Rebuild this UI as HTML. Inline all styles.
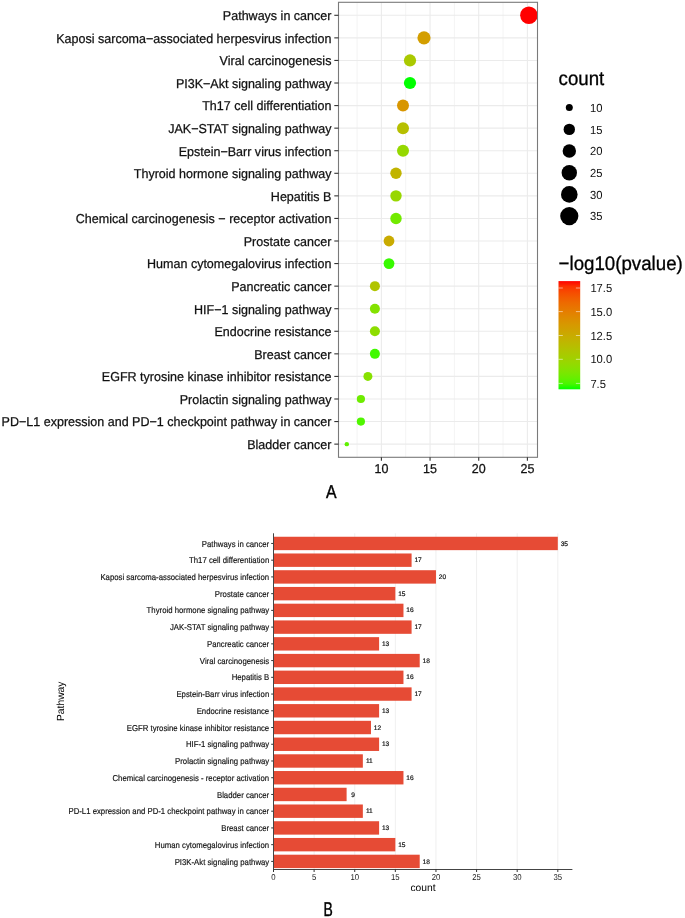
<!DOCTYPE html><html><head><meta charset="utf-8"><style>html,body{margin:0;padding:0;background:#fff;}svg{display:block;will-change:transform;}text{font-family:"Liberation Sans",sans-serif;text-rendering:geometricPrecision;}</style></head><body>
<svg width="685" height="918" viewBox="0 0 685 918">
<defs><linearGradient id="cb" x1="0" y1="1" x2="0" y2="0">
<stop offset="0.00" stop-color="#00FF00"/>
<stop offset="0.05" stop-color="#49F700"/>
<stop offset="0.10" stop-color="#65EF00"/>
<stop offset="0.15" stop-color="#7AE700"/>
<stop offset="0.20" stop-color="#8ADF00"/>
<stop offset="0.25" stop-color="#98D700"/>
<stop offset="0.30" stop-color="#A4CE00"/>
<stop offset="0.35" stop-color="#AEC600"/>
<stop offset="0.40" stop-color="#B8BD00"/>
<stop offset="0.45" stop-color="#C1B400"/>
<stop offset="0.50" stop-color="#C9AB00"/>
<stop offset="0.55" stop-color="#D0A100"/>
<stop offset="0.60" stop-color="#D79800"/>
<stop offset="0.65" stop-color="#DD8D00"/>
<stop offset="0.70" stop-color="#E38200"/>
<stop offset="0.75" stop-color="#E87600"/>
<stop offset="0.80" stop-color="#ED6A00"/>
<stop offset="0.85" stop-color="#F25B00"/>
<stop offset="0.90" stop-color="#F74A00"/>
<stop offset="0.95" stop-color="#FB3300"/>
<stop offset="1.00" stop-color="#FF0000"/>
</linearGradient></defs>
<line x1="357.07" y1="2.3" x2="357.07" y2="457.3" stroke="#EBEBEB" stroke-width="0.6"/>
<line x1="405.73" y1="2.3" x2="405.73" y2="457.3" stroke="#EBEBEB" stroke-width="0.6"/>
<line x1="454.40" y1="2.3" x2="454.40" y2="457.3" stroke="#EBEBEB" stroke-width="0.6"/>
<line x1="503.06" y1="2.3" x2="503.06" y2="457.3" stroke="#EBEBEB" stroke-width="0.6"/>
<line x1="381.40" y1="2.3" x2="381.40" y2="457.3" stroke="#EBEBEB" stroke-width="1.1"/>
<line x1="430.06" y1="2.3" x2="430.06" y2="457.3" stroke="#EBEBEB" stroke-width="1.1"/>
<line x1="478.73" y1="2.3" x2="478.73" y2="457.3" stroke="#EBEBEB" stroke-width="1.1"/>
<line x1="527.39" y1="2.3" x2="527.39" y2="457.3" stroke="#EBEBEB" stroke-width="1.1"/>
<line x1="338.5" y1="15.30" x2="537.5" y2="15.30" stroke="#EBEBEB" stroke-width="1.1"/>
<line x1="338.5" y1="37.87" x2="537.5" y2="37.87" stroke="#EBEBEB" stroke-width="1.1"/>
<line x1="338.5" y1="60.44" x2="537.5" y2="60.44" stroke="#EBEBEB" stroke-width="1.1"/>
<line x1="338.5" y1="83.01" x2="537.5" y2="83.01" stroke="#EBEBEB" stroke-width="1.1"/>
<line x1="338.5" y1="105.58" x2="537.5" y2="105.58" stroke="#EBEBEB" stroke-width="1.1"/>
<line x1="338.5" y1="128.15" x2="537.5" y2="128.15" stroke="#EBEBEB" stroke-width="1.1"/>
<line x1="338.5" y1="150.72" x2="537.5" y2="150.72" stroke="#EBEBEB" stroke-width="1.1"/>
<line x1="338.5" y1="173.29" x2="537.5" y2="173.29" stroke="#EBEBEB" stroke-width="1.1"/>
<line x1="338.5" y1="195.86" x2="537.5" y2="195.86" stroke="#EBEBEB" stroke-width="1.1"/>
<line x1="338.5" y1="218.43" x2="537.5" y2="218.43" stroke="#EBEBEB" stroke-width="1.1"/>
<line x1="338.5" y1="241.00" x2="537.5" y2="241.00" stroke="#EBEBEB" stroke-width="1.1"/>
<line x1="338.5" y1="263.57" x2="537.5" y2="263.57" stroke="#EBEBEB" stroke-width="1.1"/>
<line x1="338.5" y1="286.14" x2="537.5" y2="286.14" stroke="#EBEBEB" stroke-width="1.1"/>
<line x1="338.5" y1="308.71" x2="537.5" y2="308.71" stroke="#EBEBEB" stroke-width="1.1"/>
<line x1="338.5" y1="331.28" x2="537.5" y2="331.28" stroke="#EBEBEB" stroke-width="1.1"/>
<line x1="338.5" y1="353.85" x2="537.5" y2="353.85" stroke="#EBEBEB" stroke-width="1.1"/>
<line x1="338.5" y1="376.42" x2="537.5" y2="376.42" stroke="#EBEBEB" stroke-width="1.1"/>
<line x1="338.5" y1="398.99" x2="537.5" y2="398.99" stroke="#EBEBEB" stroke-width="1.1"/>
<line x1="338.5" y1="421.56" x2="537.5" y2="421.56" stroke="#EBEBEB" stroke-width="1.1"/>
<line x1="338.5" y1="444.13" x2="537.5" y2="444.13" stroke="#EBEBEB" stroke-width="1.1"/>
<circle cx="528.9" cy="15.30" r="8.76" fill="#FF0000"/>
<circle cx="424.0" cy="37.87" r="6.6" fill="#D39E00"/>
<circle cx="410.0" cy="60.44" r="6.1" fill="#AAC900"/>
<circle cx="410.0" cy="83.01" r="6.1" fill="#00FF00"/>
<circle cx="403.0" cy="105.58" r="6.0" fill="#D89600"/>
<circle cx="403.0" cy="128.15" r="6.0" fill="#B6BF00"/>
<circle cx="403.0" cy="150.72" r="6.0" fill="#95D800"/>
<circle cx="396.0" cy="173.29" r="5.7" fill="#C1B400"/>
<circle cx="396.0" cy="195.86" r="5.7" fill="#98D700"/>
<circle cx="396.0" cy="218.43" r="5.7" fill="#72EA00"/>
<circle cx="389.0" cy="241.00" r="5.4" fill="#C9AB00"/>
<circle cx="389.0" cy="263.57" r="5.4" fill="#38FA00"/>
<circle cx="374.9" cy="286.14" r="5.0" fill="#B0C400"/>
<circle cx="374.9" cy="308.71" r="5.0" fill="#84E200"/>
<circle cx="374.9" cy="331.28" r="5.0" fill="#8DDD00"/>
<circle cx="374.9" cy="353.85" r="5.0" fill="#41F900"/>
<circle cx="367.9" cy="376.42" r="4.5" fill="#87E100"/>
<circle cx="360.9" cy="398.99" r="4.1" fill="#6EEC00"/>
<circle cx="360.9" cy="421.56" r="4.1" fill="#50F600"/>
<circle cx="346.8" cy="444.13" r="2.2" fill="#60F100"/>
<rect x="338.5" y="2.3" width="199.0" height="455.0" fill="none" stroke="#7a7a7a" stroke-width="1.1"/>
<line x1="334.3" y1="15.30" x2="338.5" y2="15.30" stroke="#333" stroke-width="1.1"/>
<text transform="translate(331.40 20.20) scale(1 1.03)" x="0" y="0" font-size="12.52" text-anchor="end" fill="#111" stroke="#111" stroke-width="0.25">Pathways in cancer</text>
<line x1="334.3" y1="37.87" x2="338.5" y2="37.87" stroke="#333" stroke-width="1.1"/>
<text transform="translate(331.40 42.77) scale(1 1.03)" x="0" y="0" font-size="12.52" text-anchor="end" fill="#111" stroke="#111" stroke-width="0.25">Kaposi sarcoma−associated herpesvirus infection</text>
<line x1="334.3" y1="60.44" x2="338.5" y2="60.44" stroke="#333" stroke-width="1.1"/>
<text transform="translate(331.40 65.34) scale(1 1.03)" x="0" y="0" font-size="12.52" text-anchor="end" fill="#111" stroke="#111" stroke-width="0.25">Viral carcinogenesis</text>
<line x1="334.3" y1="83.01" x2="338.5" y2="83.01" stroke="#333" stroke-width="1.1"/>
<text transform="translate(331.40 87.91) scale(1 1.03)" x="0" y="0" font-size="12.52" text-anchor="end" fill="#111" stroke="#111" stroke-width="0.25">PI3K−Akt signaling pathway</text>
<line x1="334.3" y1="105.58" x2="338.5" y2="105.58" stroke="#333" stroke-width="1.1"/>
<text transform="translate(331.40 110.48) scale(1 1.03)" x="0" y="0" font-size="12.52" text-anchor="end" fill="#111" stroke="#111" stroke-width="0.25">Th17 cell differentiation</text>
<line x1="334.3" y1="128.15" x2="338.5" y2="128.15" stroke="#333" stroke-width="1.1"/>
<text transform="translate(331.40 133.05) scale(1 1.03)" x="0" y="0" font-size="12.52" text-anchor="end" fill="#111" stroke="#111" stroke-width="0.25">JAK−STAT signaling pathway</text>
<line x1="334.3" y1="150.72" x2="338.5" y2="150.72" stroke="#333" stroke-width="1.1"/>
<text transform="translate(331.40 155.62) scale(1 1.03)" x="0" y="0" font-size="12.52" text-anchor="end" fill="#111" stroke="#111" stroke-width="0.25">Epstein−Barr virus infection</text>
<line x1="334.3" y1="173.29" x2="338.5" y2="173.29" stroke="#333" stroke-width="1.1"/>
<text transform="translate(331.40 178.19) scale(1 1.03)" x="0" y="0" font-size="12.52" text-anchor="end" fill="#111" stroke="#111" stroke-width="0.25">Thyroid hormone signaling pathway</text>
<line x1="334.3" y1="195.86" x2="338.5" y2="195.86" stroke="#333" stroke-width="1.1"/>
<text transform="translate(331.40 200.76) scale(1 1.03)" x="0" y="0" font-size="12.52" text-anchor="end" fill="#111" stroke="#111" stroke-width="0.25">Hepatitis B</text>
<line x1="334.3" y1="218.43" x2="338.5" y2="218.43" stroke="#333" stroke-width="1.1"/>
<text transform="translate(331.40 223.33) scale(1 1.03)" x="0" y="0" font-size="12.52" text-anchor="end" fill="#111" stroke="#111" stroke-width="0.25">Chemical carcinogenesis − receptor activation</text>
<line x1="334.3" y1="241.00" x2="338.5" y2="241.00" stroke="#333" stroke-width="1.1"/>
<text transform="translate(331.40 245.90) scale(1 1.03)" x="0" y="0" font-size="12.52" text-anchor="end" fill="#111" stroke="#111" stroke-width="0.25">Prostate cancer</text>
<line x1="334.3" y1="263.57" x2="338.5" y2="263.57" stroke="#333" stroke-width="1.1"/>
<text transform="translate(331.40 268.47) scale(1 1.03)" x="0" y="0" font-size="12.52" text-anchor="end" fill="#111" stroke="#111" stroke-width="0.25">Human cytomegalovirus infection</text>
<line x1="334.3" y1="286.14" x2="338.5" y2="286.14" stroke="#333" stroke-width="1.1"/>
<text transform="translate(331.40 291.04) scale(1 1.03)" x="0" y="0" font-size="12.52" text-anchor="end" fill="#111" stroke="#111" stroke-width="0.25">Pancreatic cancer</text>
<line x1="334.3" y1="308.71" x2="338.5" y2="308.71" stroke="#333" stroke-width="1.1"/>
<text transform="translate(331.40 313.61) scale(1 1.03)" x="0" y="0" font-size="12.52" text-anchor="end" fill="#111" stroke="#111" stroke-width="0.25">HIF−1 signaling pathway</text>
<line x1="334.3" y1="331.28" x2="338.5" y2="331.28" stroke="#333" stroke-width="1.1"/>
<text transform="translate(331.40 336.18) scale(1 1.03)" x="0" y="0" font-size="12.52" text-anchor="end" fill="#111" stroke="#111" stroke-width="0.25">Endocrine resistance</text>
<line x1="334.3" y1="353.85" x2="338.5" y2="353.85" stroke="#333" stroke-width="1.1"/>
<text transform="translate(331.40 358.75) scale(1 1.03)" x="0" y="0" font-size="12.52" text-anchor="end" fill="#111" stroke="#111" stroke-width="0.25">Breast cancer</text>
<line x1="334.3" y1="376.42" x2="338.5" y2="376.42" stroke="#333" stroke-width="1.1"/>
<text transform="translate(331.40 381.32) scale(1 1.03)" x="0" y="0" font-size="12.52" text-anchor="end" fill="#111" stroke="#111" stroke-width="0.25">EGFR tyrosine kinase inhibitor resistance</text>
<line x1="334.3" y1="398.99" x2="338.5" y2="398.99" stroke="#333" stroke-width="1.1"/>
<text transform="translate(331.40 403.89) scale(1 1.03)" x="0" y="0" font-size="12.52" text-anchor="end" fill="#111" stroke="#111" stroke-width="0.25">Prolactin signaling pathway</text>
<line x1="334.3" y1="421.56" x2="338.5" y2="421.56" stroke="#333" stroke-width="1.1"/>
<text transform="translate(331.40 426.46) scale(1 1.03)" x="0" y="0" font-size="12.52" text-anchor="end" fill="#111" stroke="#111" stroke-width="0.25">PD−L1 expression and PD−1 checkpoint pathway in cancer</text>
<line x1="334.3" y1="444.13" x2="338.5" y2="444.13" stroke="#333" stroke-width="1.1"/>
<text transform="translate(331.40 449.03) scale(1 1.03)" x="0" y="0" font-size="12.52" text-anchor="end" fill="#111" stroke="#111" stroke-width="0.25">Bladder cancer</text>
<line x1="381.40" y1="457.3" x2="381.40" y2="460.7" stroke="#333" stroke-width="1.1"/>
<text transform="translate(381.40 473.20) scale(1 1.03)" x="0" y="0" font-size="12.52" text-anchor="middle" fill="#111" stroke="#111" stroke-width="0.25">10</text>
<line x1="430.06" y1="457.3" x2="430.06" y2="460.7" stroke="#333" stroke-width="1.1"/>
<text transform="translate(430.06 473.20) scale(1 1.03)" x="0" y="0" font-size="12.52" text-anchor="middle" fill="#111" stroke="#111" stroke-width="0.25">15</text>
<line x1="478.73" y1="457.3" x2="478.73" y2="460.7" stroke="#333" stroke-width="1.1"/>
<text transform="translate(478.73 473.20) scale(1 1.03)" x="0" y="0" font-size="12.52" text-anchor="middle" fill="#111" stroke="#111" stroke-width="0.25">20</text>
<line x1="527.39" y1="457.3" x2="527.39" y2="460.7" stroke="#333" stroke-width="1.1"/>
<text transform="translate(527.39 473.20) scale(1 1.03)" x="0" y="0" font-size="12.52" text-anchor="middle" fill="#111" stroke="#111" stroke-width="0.25">25</text>
<text transform="translate(558.60 85.10) scale(1 1.05)" x="0" y="0" font-size="18.7" text-anchor="start" fill="#000" stroke="#000" stroke-width="0.3">count</text>
<circle cx="569.3" cy="107.5" r="3.5" fill="#000"/>
<text transform="translate(590.00 111.60) scale(1 1.05)" x="0" y="0" font-size="11.2" text-anchor="start" fill="#111">10</text>
<circle cx="569.3" cy="129.4" r="5.7" fill="#000"/>
<text transform="translate(590.00 133.50) scale(1 1.05)" x="0" y="0" font-size="11.2" text-anchor="start" fill="#111">15</text>
<circle cx="569.3" cy="151.0" r="6.7" fill="#000"/>
<text transform="translate(590.00 155.10) scale(1 1.05)" x="0" y="0" font-size="11.2" text-anchor="start" fill="#111">20</text>
<circle cx="569.3" cy="172.7" r="7.7" fill="#000"/>
<text transform="translate(590.00 176.80) scale(1 1.05)" x="0" y="0" font-size="11.2" text-anchor="start" fill="#111">25</text>
<circle cx="569.3" cy="194.4" r="8.3" fill="#000"/>
<text transform="translate(590.00 198.50) scale(1 1.05)" x="0" y="0" font-size="11.2" text-anchor="start" fill="#111">30</text>
<circle cx="569.3" cy="216.1" r="9.1" fill="#000"/>
<text transform="translate(590.00 220.20) scale(1 1.05)" x="0" y="0" font-size="11.2" text-anchor="start" fill="#111">35</text>
<text transform="translate(558.60 269.60) scale(1 1.05)" x="0" y="0" font-size="18.7" text-anchor="start" fill="#000" stroke="#000" stroke-width="0.3">−log10(pvalue)</text>
<rect x="558.5" y="281.1" width="21.7" height="108.2" fill="url(#cb)"/>
<line x1="558.5" y1="288.0" x2="562.8" y2="288.0" stroke="#fff" stroke-opacity="0.6" stroke-width="0.9"/>
<line x1="575.9" y1="288.0" x2="580.2" y2="288.0" stroke="#fff" stroke-opacity="0.6" stroke-width="0.9"/>
<text transform="translate(590.40 292.10) scale(1 1.05)" x="0" y="0" font-size="11.2" text-anchor="start" fill="#111">17.5</text>
<line x1="558.5" y1="311.6" x2="562.8" y2="311.6" stroke="#fff" stroke-opacity="0.6" stroke-width="0.9"/>
<line x1="575.9" y1="311.6" x2="580.2" y2="311.6" stroke="#fff" stroke-opacity="0.6" stroke-width="0.9"/>
<text transform="translate(590.40 315.70) scale(1 1.05)" x="0" y="0" font-size="11.2" text-anchor="start" fill="#111">15.0</text>
<line x1="558.5" y1="335.5" x2="562.8" y2="335.5" stroke="#fff" stroke-opacity="0.6" stroke-width="0.9"/>
<line x1="575.9" y1="335.5" x2="580.2" y2="335.5" stroke="#fff" stroke-opacity="0.6" stroke-width="0.9"/>
<text transform="translate(590.40 339.60) scale(1 1.05)" x="0" y="0" font-size="11.2" text-anchor="start" fill="#111">12.5</text>
<line x1="558.5" y1="359.3" x2="562.8" y2="359.3" stroke="#fff" stroke-opacity="0.6" stroke-width="0.9"/>
<line x1="575.9" y1="359.3" x2="580.2" y2="359.3" stroke="#fff" stroke-opacity="0.6" stroke-width="0.9"/>
<text transform="translate(590.40 363.40) scale(1 1.05)" x="0" y="0" font-size="11.2" text-anchor="start" fill="#111">10.0</text>
<line x1="558.5" y1="383.4" x2="562.8" y2="383.4" stroke="#fff" stroke-opacity="0.6" stroke-width="0.9"/>
<line x1="575.9" y1="383.4" x2="580.2" y2="383.4" stroke="#fff" stroke-opacity="0.6" stroke-width="0.9"/>
<text transform="translate(590.40 387.50) scale(1 1.05)" x="0" y="0" font-size="11.2" text-anchor="start" fill="#111">7.5</text>
<text x="331.4" y="497.7" font-size="18.6" text-anchor="middle" fill="#000" stroke="#000" stroke-width="0.45" transform="translate(331.4 0) scale(0.85 1) translate(-331.4 0)">A</text>
<line x1="273.50" y1="533.3" x2="273.50" y2="869.3" stroke="#EBEBEB" stroke-width="0.8"/>
<line x1="314.12" y1="533.3" x2="314.12" y2="869.3" stroke="#EBEBEB" stroke-width="0.8"/>
<line x1="354.73" y1="533.3" x2="354.73" y2="869.3" stroke="#EBEBEB" stroke-width="0.8"/>
<line x1="395.34" y1="533.3" x2="395.34" y2="869.3" stroke="#EBEBEB" stroke-width="0.8"/>
<line x1="435.96" y1="533.3" x2="435.96" y2="869.3" stroke="#EBEBEB" stroke-width="0.8"/>
<line x1="476.57" y1="533.3" x2="476.57" y2="869.3" stroke="#EBEBEB" stroke-width="0.8"/>
<line x1="517.19" y1="533.3" x2="517.19" y2="869.3" stroke="#EBEBEB" stroke-width="0.8"/>
<line x1="557.80" y1="533.3" x2="557.80" y2="869.3" stroke="#EBEBEB" stroke-width="0.8"/>
<rect x="273.7" y="536.75" width="284.10" height="13.4" fill="#E64B35"/>
<text x="564.30" y="545.55" font-size="6.6" text-anchor="middle" fill="#111" stroke="#111" stroke-width="0.2">35</text>
<line x1="271.2" y1="543.45" x2="273.7" y2="543.45" stroke="#333" stroke-width="1"/>
<text transform="translate(269.20 546.55) scale(1 1.1)" x="0" y="0" font-size="7.77" text-anchor="end" fill="#111" stroke="#111" stroke-width="0.15">Pathways in cancer</text>
<rect x="273.7" y="553.48" width="137.89" height="13.4" fill="#E64B35"/>
<text x="418.09" y="562.28" font-size="6.6" text-anchor="middle" fill="#111" stroke="#111" stroke-width="0.2">17</text>
<line x1="271.2" y1="560.18" x2="273.7" y2="560.18" stroke="#333" stroke-width="1"/>
<text transform="translate(269.20 563.28) scale(1 1.1)" x="0" y="0" font-size="7.77" text-anchor="end" fill="#111" stroke="#111" stroke-width="0.15">Th17 cell differentiation</text>
<rect x="273.7" y="570.22" width="162.26" height="13.4" fill="#E64B35"/>
<text x="442.46" y="579.02" font-size="6.6" text-anchor="middle" fill="#111" stroke="#111" stroke-width="0.2">20</text>
<line x1="271.2" y1="576.92" x2="273.7" y2="576.92" stroke="#333" stroke-width="1"/>
<text transform="translate(269.20 580.02) scale(1 1.1)" x="0" y="0" font-size="7.77" text-anchor="end" fill="#111" stroke="#111" stroke-width="0.15">Kaposi sarcoma-associated herpesvirus infection</text>
<rect x="273.7" y="586.95" width="121.64" height="13.4" fill="#E64B35"/>
<text x="401.84" y="595.75" font-size="6.6" text-anchor="middle" fill="#111" stroke="#111" stroke-width="0.2">15</text>
<line x1="271.2" y1="593.65" x2="273.7" y2="593.65" stroke="#333" stroke-width="1"/>
<text transform="translate(269.20 596.75) scale(1 1.1)" x="0" y="0" font-size="7.77" text-anchor="end" fill="#111" stroke="#111" stroke-width="0.15">Prostate cancer</text>
<rect x="273.7" y="603.69" width="129.77" height="13.4" fill="#E64B35"/>
<text x="409.97" y="612.49" font-size="6.6" text-anchor="middle" fill="#111" stroke="#111" stroke-width="0.2">16</text>
<line x1="271.2" y1="610.39" x2="273.7" y2="610.39" stroke="#333" stroke-width="1"/>
<text transform="translate(269.20 613.49) scale(1 1.1)" x="0" y="0" font-size="7.77" text-anchor="end" fill="#111" stroke="#111" stroke-width="0.15">Thyroid hormone signaling pathway</text>
<rect x="273.7" y="620.42" width="137.89" height="13.4" fill="#E64B35"/>
<text x="418.09" y="629.22" font-size="6.6" text-anchor="middle" fill="#111" stroke="#111" stroke-width="0.2">17</text>
<line x1="271.2" y1="627.12" x2="273.7" y2="627.12" stroke="#333" stroke-width="1"/>
<text transform="translate(269.20 630.22) scale(1 1.1)" x="0" y="0" font-size="7.77" text-anchor="end" fill="#111" stroke="#111" stroke-width="0.15">JAK-STAT signaling pathway</text>
<rect x="273.7" y="637.15" width="105.40" height="13.4" fill="#E64B35"/>
<text x="385.60" y="645.95" font-size="6.6" text-anchor="middle" fill="#111" stroke="#111" stroke-width="0.2">13</text>
<line x1="271.2" y1="643.85" x2="273.7" y2="643.85" stroke="#333" stroke-width="1"/>
<text transform="translate(269.20 646.95) scale(1 1.1)" x="0" y="0" font-size="7.77" text-anchor="end" fill="#111" stroke="#111" stroke-width="0.15">Pancreatic cancer</text>
<rect x="273.7" y="653.89" width="146.01" height="13.4" fill="#E64B35"/>
<text x="426.21" y="662.69" font-size="6.6" text-anchor="middle" fill="#111" stroke="#111" stroke-width="0.2">18</text>
<line x1="271.2" y1="660.59" x2="273.7" y2="660.59" stroke="#333" stroke-width="1"/>
<text transform="translate(269.20 663.69) scale(1 1.1)" x="0" y="0" font-size="7.77" text-anchor="end" fill="#111" stroke="#111" stroke-width="0.15">Viral carcinogenesis</text>
<rect x="273.7" y="670.62" width="129.77" height="13.4" fill="#E64B35"/>
<text x="409.97" y="679.42" font-size="6.6" text-anchor="middle" fill="#111" stroke="#111" stroke-width="0.2">16</text>
<line x1="271.2" y1="677.32" x2="273.7" y2="677.32" stroke="#333" stroke-width="1"/>
<text transform="translate(269.20 680.42) scale(1 1.1)" x="0" y="0" font-size="7.77" text-anchor="end" fill="#111" stroke="#111" stroke-width="0.15">Hepatitis B</text>
<rect x="273.7" y="687.36" width="137.89" height="13.4" fill="#E64B35"/>
<text x="418.09" y="696.16" font-size="6.6" text-anchor="middle" fill="#111" stroke="#111" stroke-width="0.2">17</text>
<line x1="271.2" y1="694.06" x2="273.7" y2="694.06" stroke="#333" stroke-width="1"/>
<text transform="translate(269.20 697.16) scale(1 1.1)" x="0" y="0" font-size="7.77" text-anchor="end" fill="#111" stroke="#111" stroke-width="0.15">Epstein-Barr virus infection</text>
<rect x="273.7" y="704.09" width="105.40" height="13.4" fill="#E64B35"/>
<text x="385.60" y="712.89" font-size="6.6" text-anchor="middle" fill="#111" stroke="#111" stroke-width="0.2">13</text>
<line x1="271.2" y1="710.79" x2="273.7" y2="710.79" stroke="#333" stroke-width="1"/>
<text transform="translate(269.20 713.89) scale(1 1.1)" x="0" y="0" font-size="7.77" text-anchor="end" fill="#111" stroke="#111" stroke-width="0.15">Endocrine resistance</text>
<rect x="273.7" y="720.82" width="97.28" height="13.4" fill="#E64B35"/>
<text x="377.48" y="729.62" font-size="6.6" text-anchor="middle" fill="#111" stroke="#111" stroke-width="0.2">12</text>
<line x1="271.2" y1="727.52" x2="273.7" y2="727.52" stroke="#333" stroke-width="1"/>
<text transform="translate(269.20 730.62) scale(1 1.1)" x="0" y="0" font-size="7.77" text-anchor="end" fill="#111" stroke="#111" stroke-width="0.15">EGFR tyrosine kinase inhibitor resistance</text>
<rect x="273.7" y="737.56" width="105.40" height="13.4" fill="#E64B35"/>
<text x="385.60" y="746.36" font-size="6.6" text-anchor="middle" fill="#111" stroke="#111" stroke-width="0.2">13</text>
<line x1="271.2" y1="744.26" x2="273.7" y2="744.26" stroke="#333" stroke-width="1"/>
<text transform="translate(269.20 747.36) scale(1 1.1)" x="0" y="0" font-size="7.77" text-anchor="end" fill="#111" stroke="#111" stroke-width="0.15">HIF-1 signaling pathway</text>
<rect x="273.7" y="754.29" width="89.15" height="13.4" fill="#E64B35"/>
<text x="369.35" y="763.09" font-size="6.6" text-anchor="middle" fill="#111" stroke="#111" stroke-width="0.2">11</text>
<line x1="271.2" y1="760.99" x2="273.7" y2="760.99" stroke="#333" stroke-width="1"/>
<text transform="translate(269.20 764.09) scale(1 1.1)" x="0" y="0" font-size="7.77" text-anchor="end" fill="#111" stroke="#111" stroke-width="0.15">Prolactin signaling pathway</text>
<rect x="273.7" y="771.03" width="129.77" height="13.4" fill="#E64B35"/>
<text x="409.97" y="779.83" font-size="6.6" text-anchor="middle" fill="#111" stroke="#111" stroke-width="0.2">16</text>
<line x1="271.2" y1="777.73" x2="273.7" y2="777.73" stroke="#333" stroke-width="1"/>
<text transform="translate(269.20 780.83) scale(1 1.1)" x="0" y="0" font-size="7.77" text-anchor="end" fill="#111" stroke="#111" stroke-width="0.15">Chemical carcinogenesis - receptor activation</text>
<rect x="273.7" y="787.76" width="72.91" height="13.4" fill="#E64B35"/>
<text x="353.11" y="796.56" font-size="6.6" text-anchor="middle" fill="#111" stroke="#111" stroke-width="0.2">9</text>
<line x1="271.2" y1="794.46" x2="273.7" y2="794.46" stroke="#333" stroke-width="1"/>
<text transform="translate(269.20 797.56) scale(1 1.1)" x="0" y="0" font-size="7.77" text-anchor="end" fill="#111" stroke="#111" stroke-width="0.15">Bladder cancer</text>
<rect x="273.7" y="804.49" width="89.15" height="13.4" fill="#E64B35"/>
<text x="369.35" y="813.29" font-size="6.6" text-anchor="middle" fill="#111" stroke="#111" stroke-width="0.2">11</text>
<line x1="271.2" y1="811.19" x2="273.7" y2="811.19" stroke="#333" stroke-width="1"/>
<text transform="translate(269.20 814.29) scale(1 1.1)" x="0" y="0" font-size="7.77" text-anchor="end" fill="#111" stroke="#111" stroke-width="0.15">PD-L1 expression and PD-1 checkpoint pathway in cancer</text>
<rect x="273.7" y="821.23" width="105.40" height="13.4" fill="#E64B35"/>
<text x="385.60" y="830.03" font-size="6.6" text-anchor="middle" fill="#111" stroke="#111" stroke-width="0.2">13</text>
<line x1="271.2" y1="827.93" x2="273.7" y2="827.93" stroke="#333" stroke-width="1"/>
<text transform="translate(269.20 831.03) scale(1 1.1)" x="0" y="0" font-size="7.77" text-anchor="end" fill="#111" stroke="#111" stroke-width="0.15">Breast cancer</text>
<rect x="273.7" y="837.96" width="121.64" height="13.4" fill="#E64B35"/>
<text x="401.84" y="846.76" font-size="6.6" text-anchor="middle" fill="#111" stroke="#111" stroke-width="0.2">15</text>
<line x1="271.2" y1="844.66" x2="273.7" y2="844.66" stroke="#333" stroke-width="1"/>
<text transform="translate(269.20 847.76) scale(1 1.1)" x="0" y="0" font-size="7.77" text-anchor="end" fill="#111" stroke="#111" stroke-width="0.15">Human cytomegalovirus infection</text>
<rect x="273.7" y="854.70" width="146.01" height="13.4" fill="#E64B35"/>
<text x="426.21" y="863.50" font-size="6.6" text-anchor="middle" fill="#111" stroke="#111" stroke-width="0.2">18</text>
<line x1="271.2" y1="861.40" x2="273.7" y2="861.40" stroke="#333" stroke-width="1"/>
<text transform="translate(269.20 864.50) scale(1 1.1)" x="0" y="0" font-size="7.77" text-anchor="end" fill="#111" stroke="#111" stroke-width="0.15">PI3K-Akt signaling pathway</text>
<line x1="273.5" y1="533.3" x2="273.5" y2="872" stroke="#444" stroke-width="1"/>
<line x1="273" y1="869.5" x2="572.4" y2="869.5" stroke="#444" stroke-width="1"/>
<line x1="273.50" y1="869.3" x2="273.50" y2="872" stroke="#333" stroke-width="1"/>
<text transform="translate(273.50 879.80) scale(1 1.1)" x="0" y="0" font-size="7.77" text-anchor="middle" fill="#1a1a1a">0</text>
<line x1="314.12" y1="869.3" x2="314.12" y2="872" stroke="#333" stroke-width="1"/>
<text transform="translate(314.12 879.80) scale(1 1.1)" x="0" y="0" font-size="7.77" text-anchor="middle" fill="#1a1a1a">5</text>
<line x1="354.73" y1="869.3" x2="354.73" y2="872" stroke="#333" stroke-width="1"/>
<text transform="translate(354.73 879.80) scale(1 1.1)" x="0" y="0" font-size="7.77" text-anchor="middle" fill="#1a1a1a">10</text>
<line x1="395.34" y1="869.3" x2="395.34" y2="872" stroke="#333" stroke-width="1"/>
<text transform="translate(395.34 879.80) scale(1 1.1)" x="0" y="0" font-size="7.77" text-anchor="middle" fill="#1a1a1a">15</text>
<line x1="435.96" y1="869.3" x2="435.96" y2="872" stroke="#333" stroke-width="1"/>
<text transform="translate(435.96 879.80) scale(1 1.1)" x="0" y="0" font-size="7.77" text-anchor="middle" fill="#1a1a1a">20</text>
<line x1="476.57" y1="869.3" x2="476.57" y2="872" stroke="#333" stroke-width="1"/>
<text transform="translate(476.57 879.80) scale(1 1.1)" x="0" y="0" font-size="7.77" text-anchor="middle" fill="#1a1a1a">25</text>
<line x1="517.19" y1="869.3" x2="517.19" y2="872" stroke="#333" stroke-width="1"/>
<text transform="translate(517.19 879.80) scale(1 1.1)" x="0" y="0" font-size="7.77" text-anchor="middle" fill="#1a1a1a">30</text>
<line x1="557.80" y1="869.3" x2="557.80" y2="872" stroke="#333" stroke-width="1"/>
<text transform="translate(557.80 879.80) scale(1 1.1)" x="0" y="0" font-size="7.77" text-anchor="middle" fill="#1a1a1a">35</text>
<text x="423" y="891" font-size="10.3" text-anchor="middle" fill="#000">count</text>
<text transform="translate(64.3 701.3) rotate(-90)" x="0" y="0" font-size="10.3" text-anchor="middle" fill="#000">Pathway</text>
<text x="328.1" y="915.6" font-size="19.9" text-anchor="middle" fill="#000" stroke="#000" stroke-width="0.45" transform="translate(328.1 0) scale(0.70 1) translate(-328.1 0)">B</text>
</svg></body></html>
